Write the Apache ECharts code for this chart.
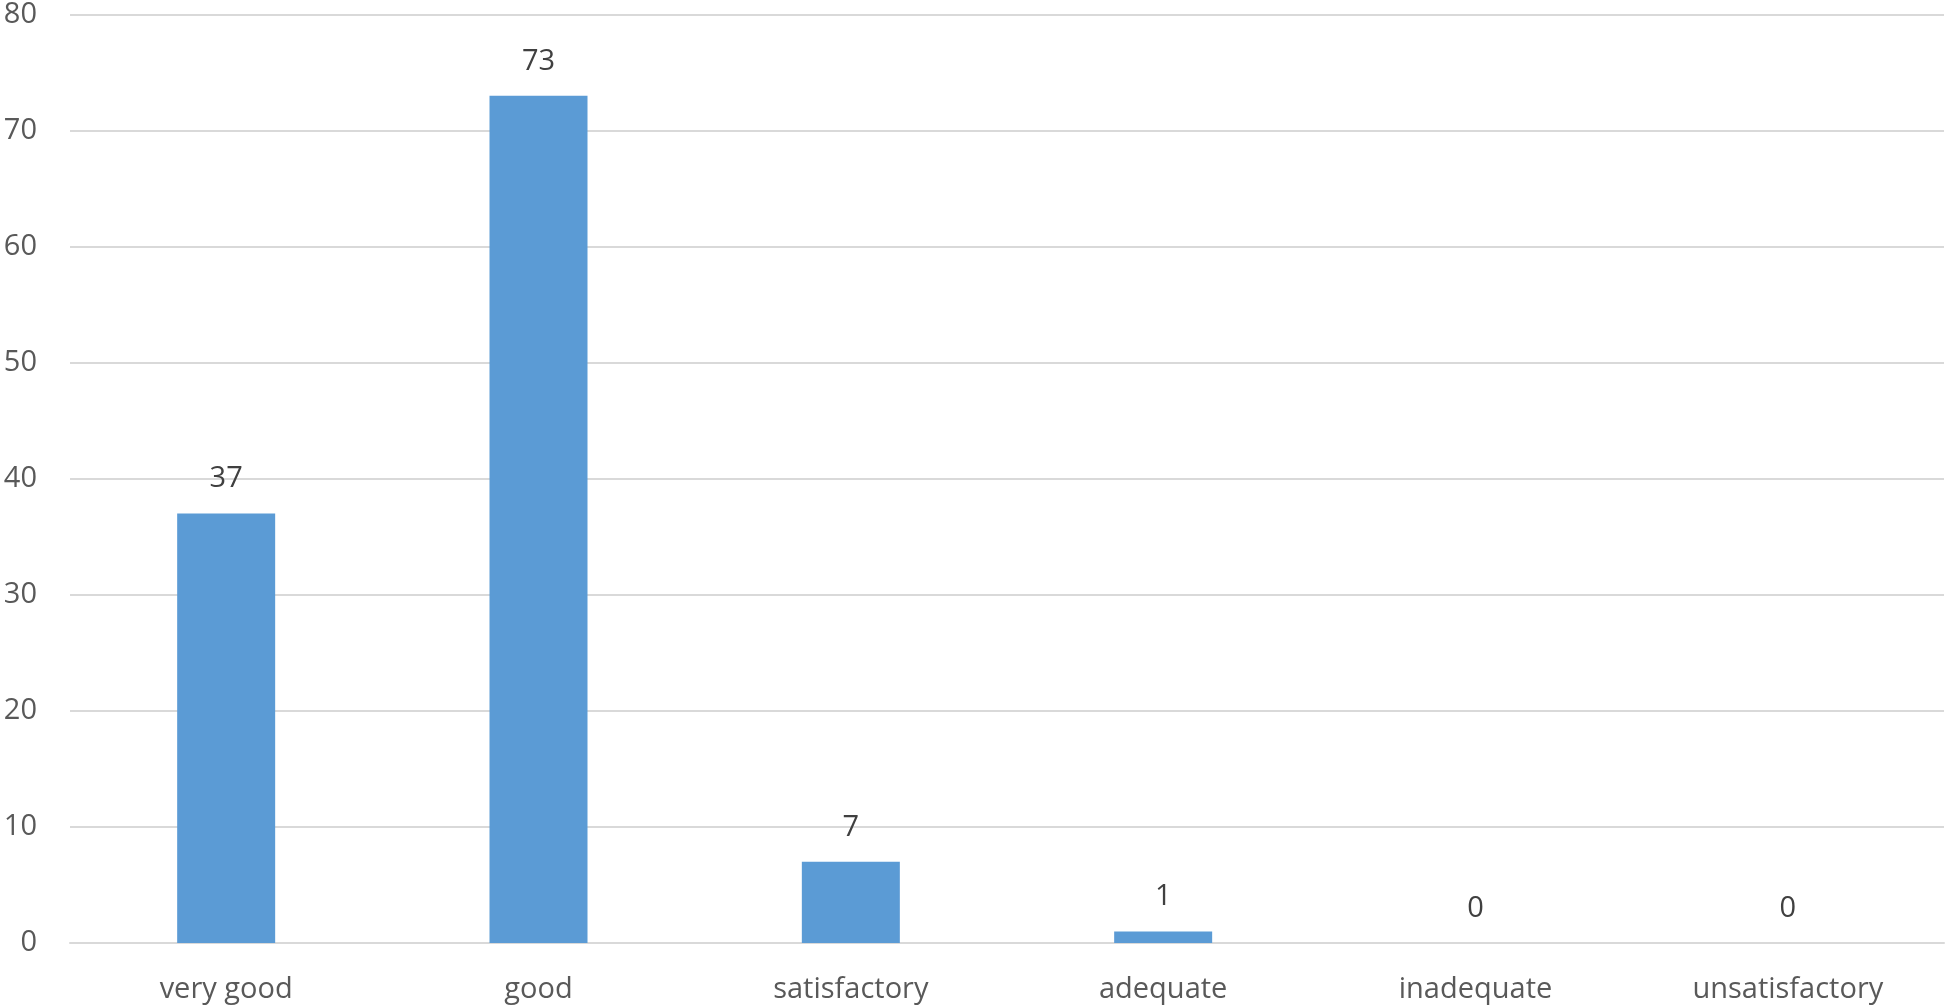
<!DOCTYPE html>
<html><head><meta charset="utf-8">
<script src="https://cdn.jsdelivr.net/npm/echarts@6/dist/echarts.min.js"></script>
<style>html,body{margin:0;padding:0;background:#fff}#c{width:1946px;height:1006px}</style>
</head><body><div id="c"></div>
<script>
const categories = ["very good", "good", "satisfactory", "adequate", "inadequate", "unsatisfactory"];
const values = [37, 73, 7, 1, 0, 0];
const yTicks = [0, 10, 20, 30, 40, 50, 60, 70, 80];

const font = "'Open Sans', sans-serif";
const chart = echarts.init(document.getElementById('c'), null, {renderer: 'canvas'});
chart.setOption({
  animation: false,
  grid: {left: 70, right: 2, top: 14, bottom: 63, containLabel: false},
  xAxis: {
    type: 'category', data: categories,
    axisLine: {show: true, lineStyle: {color: '#d9d9d9', width: 2}},
    axisTick: {show: false},
    axisLabel: {color: '#595959', fontSize: 29, fontFamily: font, margin: 32}
  },
  yAxis: {
    type: 'value', min: yTicks[0], max: yTicks[yTicks.length - 1], interval: 10,
    axisLine: {show: false}, axisTick: {show: false},
    splitLine: {lineStyle: {color: '#d9d9d9', width: 2}},
    axisLabel: {color: '#595959', fontSize: 29, fontFamily: font, margin: 33}
  },
  series: [{
    type: 'bar', data: values, barWidth: 98,
    itemStyle: {color: '#5b9bd5'},
    label: {show: true, position: 'top', distance: 20, color: '#404040', fontSize: 29, fontFamily: font}
  }]
});
</script></body></html>
